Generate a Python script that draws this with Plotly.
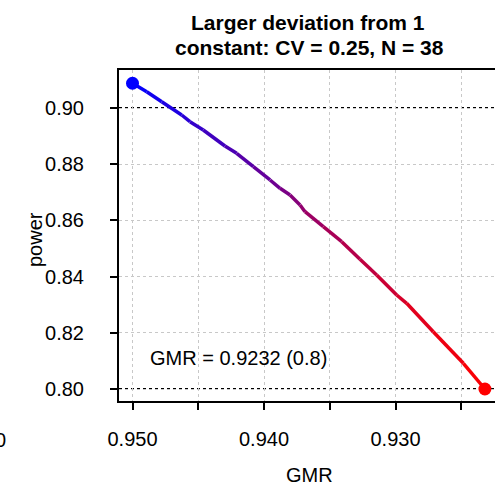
import plotly.graph_objects as go

# ---- data ----
gmr = [0.9500, 0.94892, 0.94778, 0.94626, 0.94563, 0.94462, 0.94297, 0.94208,
       0.94081, 0.93954, 0.93878, 0.93802, 0.93726, 0.93688, 0.93549, 0.93409,
       0.93270, 0.93143, 0.92991, 0.92915, 0.92713, 0.92484, 0.9232]
power = [0.9088, 0.90580, 0.90224, 0.89751, 0.89512, 0.89217, 0.88648, 0.88388,
         0.87911, 0.87438, 0.87142, 0.86904, 0.86548, 0.86310, 0.85776, 0.85242,
         0.84616, 0.84057, 0.83345, 0.83050, 0.82039, 0.80915, 0.8000]
ref_power = [0.90, 0.80]
x_tickvals = [0.950, 0.945, 0.940, 0.935, 0.930, 0.925]
x_ticktext = ["0.950", "", "0.940", "", "0.930", ""]
y_tickvals = [0.80, 0.82, 0.84, 0.86, 0.88, 0.90]
y_ticktext = ["0.80", "0.82", "0.84", "0.86", "0.88", "0.90"]
title_lines = ["Larger deviation from 1", "constant: CV = 0.25, N = 38"]
label_text = "GMR = 0.9232 (0.8)"

FONT = "Liberation Sans, Arial, sans-serif"
W, H = 495, 485
L, R, T, B = 119, 0, 70, 84

def col(f):
    r = int(round(255 * f))
    b = int(round(255 * (1 - f)))
    return f"rgb({r},0,{b})"

fig = go.Figure()
n = len(gmr)
for i in range(n - 1):
    f = (i + 0.5) / (n - 1)
    fig.add_trace(go.Scatter(x=gmr[i:i + 2], y=power[i:i + 2], mode="lines",
                             line=dict(color=col(f), width=3.5),
                             showlegend=False, hoverinfo="skip"))
fig.add_trace(go.Scatter(x=[gmr[0]], y=[power[0]], mode="markers",
                         marker=dict(color="rgb(0,0,255)", size=13),
                         showlegend=False, cliponaxis=False))
fig.add_trace(go.Scatter(x=[gmr[-1]], y=[power[-1]], mode="markers",
                         marker=dict(color="rgb(255,0,0)", size=13),
                         showlegend=False, cliponaxis=False))

for rp in ref_power:
    fig.add_shape(type="line", xref="paper", x0=0, x1=1, yref="y", y0=rp, y1=rp,
                  line=dict(color="black", width=2, dash="dot"), layer="below")

def px_x(p):
    return (p - L) / (W - L - R)

def px_y(p):
    return (H - B - p) / (H - T - B)

anns = []
for txt, xp, yp in [(title_lines[0], 308, 22), (title_lines[1], 309, 47)]:
    anns.append(dict(xref="paper", yref="paper", x=px_x(xp), y=px_y(yp),
                     text=f"<b>{txt}</b>", showarrow=False,
                     xanchor="center", yanchor="middle",
                     font=dict(family=FONT, size=21, color="black")))
anns.append(dict(xref="paper", yref="paper", x=px_x(309), y=px_y(475),
                 text="GMR", showarrow=False, xanchor="center", yanchor="middle",
                 font=dict(family=FONT, size=20, color="black")))
anns.append(dict(xref="paper", yref="paper", x=px_x(35), y=px_y(240),
                 text="power", textangle=-90, showarrow=False,
                 xanchor="center", yanchor="middle",
                 font=dict(family=FONT, size=20, color="black")))
anns.append(dict(xref="x", yref="y", x=0.94882, y=0.8110, text=label_text,
                 showarrow=False, xanchor="left", yanchor="middle",
                 font=dict(family=FONT, size=20, color="black")))
anns.append(dict(xref="paper", yref="paper", x=px_x(8), y=px_y(440),
                 text="0", showarrow=False, xanchor="right", yanchor="middle",
                 font=dict(family=FONT, size=20, color="black")))

fig.update_layout(
    width=W, height=H,
    margin=dict(l=L, r=R, t=T, b=B, pad=0),
    paper_bgcolor="white", plot_bgcolor="white",
    font=dict(family=FONT, size=20, color="black"),
    annotations=anns,
    xaxis=dict(range=[0.951027, 0.922433], autorange=False,
               tickvals=x_tickvals, ticktext=x_ticktext,
               ticks="outside", ticklen=7, tickwidth=1.5, tickcolor="black",
               ticklabelstandoff=12,
               showline=True, linecolor="black", linewidth=2, mirror=True,
               showgrid=True, gridcolor="#c8c8c8", gridwidth=1, griddash="3px,3px",
               zeroline=False, tickfont=dict(size=20)),
    yaxis=dict(range=[0.795730, 0.913523], autorange=False,
               tickvals=y_tickvals, ticktext=y_ticktext,
               ticks="outside", ticklen=7, tickwidth=1.5, tickcolor="black",
               ticklabelstandoff=22,
               showline=True, linecolor="black", linewidth=2,
               showgrid=True, gridcolor="#c8c8c8", gridwidth=1, griddash="3px,3px",
               zeroline=False, tickfont=dict(size=20)),
)

fig.write_html("out.html",
               config={"displayModeBar": False},
               post_script="document.body.style.margin='0';"
                           "document.body.style.overflow='hidden';")
